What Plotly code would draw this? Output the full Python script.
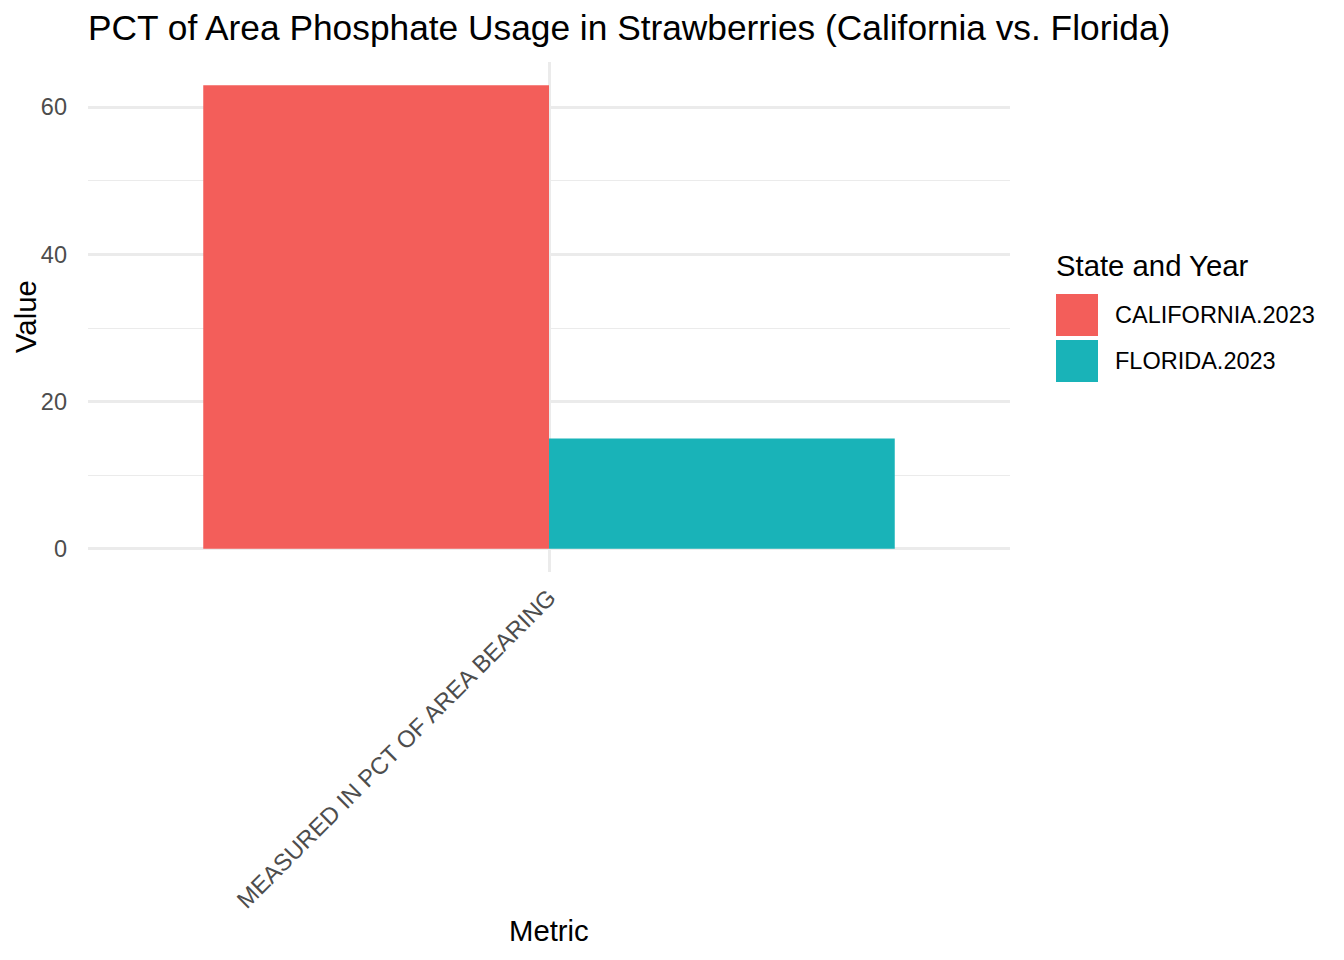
import plotly.graph_objects as go

# Data
metrics = ["MEASURED IN PCT OF AREA BEARING"]
series_names = ["CALIFORNIA.2023", "FLORIDA.2023"]
series_values = [[63.0], [15.0]]
series_colors = ["#F35E5A", "#19B3B8"]
y_tick_vals = [0, 20, 40, 60]
y_tick_text = ["0", "20", "40", "60"]

FONT = "Liberation Sans, Arial, Helvetica, sans-serif"
W, H = 1344, 960
L, R, T, B = 88, 1010, 62, 572
PW, PH = R - L, B - T


def px(x):
    return (x - L) / PW


def py(y):
    return (B - y) / PH


fig = go.Figure()
for name, vals, col in zip(series_names, series_values, series_colors):
    fig.add_trace(go.Bar(x=metrics, y=vals, name=name, marker=dict(color=col, line=dict(width=0)),
                         showlegend=False))

ymax = max(max(v) for v in series_values)
pad = ymax * 0.05

fig.update_layout(
    width=W, height=H,
    margin=dict(l=L, r=W - R, t=T, b=H - B, pad=0),
    paper_bgcolor="white", plot_bgcolor="white",
    barmode="group", bargap=0.1, bargroupgap=0,
    font=dict(family=FONT, color="#4D4D4D"),
    title=dict(text="PCT of Area Phosphate Usage in Strawberries (California vs. Florida)",
               x=0, xref="paper", xanchor="left", y=1 - 28 / H, yref="container", yanchor="middle",
               font=dict(size=35.3, color="black", family=FONT)),
    xaxis=dict(range=[-0.6, 0.6], showgrid=True, gridcolor="#EBEBEB", gridwidth=2.7,
               zeroline=False, showline=False, ticks="", tickangle=-45, ticklabelstandoff=6,
               tickfont=dict(size=23.7, color="#4D4D4D"), automargin=False),
    yaxis=dict(range=[-pad, ymax + pad], tickvals=y_tick_vals, ticktext=y_tick_text,
               showgrid=True, gridcolor="#EBEBEB", gridwidth=2.7,
               minor=dict(dtick=10, tick0=0, showgrid=True, gridcolor="#EBEBEB", gridwidth=1.4),
               zeroline=False, showline=False, ticks="", ticklabelstandoff=20,
               tickfont=dict(size=23.5, color="#4D4D4D"), automargin=False),
)

# Axis titles
fig.add_annotation(text="Metric", x=px(549), xref="paper", y=py(930), yref="paper",
                   yanchor="middle", xanchor="center", showarrow=False,
                   font=dict(size=29.3, color="black", family=FONT))
fig.add_annotation(text="Value", x=px(25), xref="paper", y=py(317), yref="paper",
                   xanchor="center", yanchor="middle", textangle=-90, showarrow=False,
                   font=dict(size=29.3, color="black", family=FONT))

# Legend (drawn manually to match large square keys)
fig.add_annotation(text="State and Year", x=px(1054), xref="paper", y=py(265), yref="paper",
                   xanchor="left", yanchor="middle", showarrow=False,
                   font=dict(size=29.3, color="black", family=FONT))
key_top = 294
key_size = 42
key_step = 46
for i, (name, col) in enumerate(zip(series_names, series_colors)):
    y0 = key_top + i * key_step
    fig.add_shape(type="rect", xref="paper", yref="paper",
                  x0=px(1056), x1=px(1056 + key_size),
                  y0=py(y0 + key_size), y1=py(y0),
                  fillcolor=col, line=dict(width=0))
    fig.add_annotation(text=name, x=px(1113), xref="paper", y=py(y0 + key_size / 2), yref="paper",
                       xanchor="left", yanchor="middle", showarrow=False,
                       font=dict(size=23.5, color="black", family=FONT))

fig.write_html("out.html")
